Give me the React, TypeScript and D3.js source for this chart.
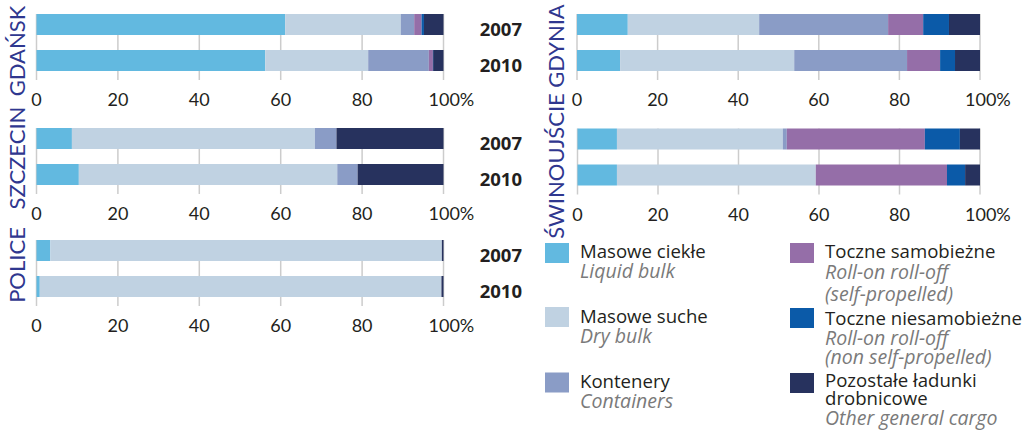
import React from 'react';
import * as d3 from 'd3';

// ---- data ----
const years = ['2007', '2010'];
const ports = ['GDAŃSK', 'GDYNIA', 'SZCZECIN', 'ŚWINOUJŚCIE', 'POLICE'];
const categoriesPL = ['Masowe ciekłe', 'Masowe suche', 'Kontenery', 'Toczne samobieżne', 'Toczne niesamobieżne', 'Pozostałe ładunki drobnicowe'];
const categoriesEN = ['Liquid bulk', 'Dry bulk', 'Containers', 'Roll-on roll-off (self-propelled)', 'Roll-on roll-off (non self-propelled)', 'Other general cargo'];
const tickValues = [0, 20, 40, 60, 80, 100];

// shares (%) per category, order as in categoriesPL
const gdansk2007 = [61.1, 28.4, 3.3, 1.8, 0.6, 4.8];
const gdansk2010 = [56.2, 25.3, 14.9, 1.0, 0.1, 2.5];
const gdynia2007 = [12.6, 32.6, 32.0, 8.7, 6.4, 7.7];
const gdynia2010 = [10.7, 43.2, 28.0, 8.2, 3.7, 6.2];
const szczecin2007 = [8.7, 59.7, 5.3, 0, 0, 26.3];
const szczecin2010 = [10.4, 63.5, 5.0, 0, 0, 21.1];
const swinoujscie2007 = [9.8, 41.2, 1.0, 34.3, 8.7, 5.0];
const swinoujscie2010 = [9.8, 49.4, 0, 32.6, 4.5, 3.7];
const police2007 = [3.4, 96.2, 0, 0, 0, 0.4];
const police2010 = [0.8, 98.7, 0, 0, 0, 0.5];

const portData = [
  [gdansk2007, gdansk2010],
  [gdynia2007, gdynia2010],
  [szczecin2007, szczecin2010],
  [swinoujscie2007, swinoujscie2010],
  [police2007, police2010],
];

// ---- styles ----
const colors = ['#62b9e0', '#c0d2e2', '#8a9cc6', '#956ea8', '#0b5aa8', '#27325e'];
const FONT = 'Lato, "Open Sans", sans-serif';
const LFONT = '"Open Sans", sans-serif';
const cityColor = '#2f378f';
const textColor = '#231f20';
const gridColor = '#cccccc';

// panel layout: x0, x1, top, label x, label center y
const panels = [
  { x0: 36.5, x1: 443.5, top: 14, lx: 25, ly: 51 },
  { x0: 577, x1: 980, top: 14, lx: 564, ly: 46 },
  { x0: 36.5, x1: 443.5, top: 128, lx: 25, ly: 158 },
  { x0: 577.5, x1: 980, top: 128.5, lx: 564, ly: 166 },
  { x0: 36.5, x1: 443.5, top: 240, lx: 25, ly: 265 },
];

function Panel({ p, data, idx }: any) {
  const x = d3.scaleLinear().domain([0, 100]).range([p.x0, p.x1]);
  const y = d3.scaleBand().domain(years).range([p.top, p.top + 57]).paddingInner(15 / 36).paddingOuter(0);
  const gridBottom = p.top + 66;
  const showYears = idx % 2 === 0;
  return (
    <g>
      {tickValues.map((t) => (
        <line key={t} x1={x(t)} x2={x(t)} y1={p.top} y2={gridBottom} stroke={gridColor} strokeWidth={1.5} />
      ))}
      {years.map((yr, yi) => {
        const vals = data[yi];
        const ends = Array.from(d3.cumsum(vals));
        return (
          <g key={yr}>
            {vals.map((v: number, ci: number) => {
              if (v <= 0) return null;
              const start = ends[ci] - v;
              return (
                <rect key={ci} x={x(start)} y={y(yr)} width={Math.max(0.8, x(ends[ci]) - x(start))}
                  height={y.bandwidth()} fill={colors[ci]} />
              );
            })}
            {showYears && (
              <text x={522} y={(y(yr) as number) + y.bandwidth() / 2 + 11} textAnchor="end"
                fontFamily={LFONT} fontWeight="bold" fontSize={18.5} fill={textColor}>{yr}</text>
            )}
          </g>
        );
      })}
      {tickValues.map((t) => (
        t === 100 ? (
          <text key={t} x={x(t) - 15} y={p.top + 92} fontFamily={FONT} fontSize={18} fill={textColor}>100%</text>
        ) : (
          <text key={t} x={x(t)} y={p.top + 92} textAnchor="middle" fontFamily={FONT} fontSize={18} fill={textColor}>{t}</text>
        )
      ))}
      <text transform={`translate(${p.lx},${p.ly}) rotate(-90)`} textAnchor="middle" fontFamily={FONT}
        fontSize={22} fill={cityColor}>{ports[idx]}</text>
    </g>
  );
}

function Legend() {
  const items = [
    { c: 0, x: 545, sy: 243, lines: [{ t: categoriesPL[0], it: false, y: 258 }, { t: categoriesEN[0], it: true, y: 278 }] },
    { c: 1, x: 545, sy: 307, lines: [{ t: categoriesPL[1], it: false, y: 323 }, { t: categoriesEN[1], it: true, y: 343 }] },
    { c: 2, x: 545, sy: 372.5, lines: [{ t: categoriesPL[2], it: false, y: 388 }, { t: categoriesEN[2], it: true, y: 407.5 }] },
    { c: 3, x: 790, sy: 243, lines: [{ t: categoriesPL[3], it: false, y: 258 }, { t: 'Roll-on roll-off', it: true, y: 279 }, { t: '(self-propelled)', it: true, y: 301 }] },
    { c: 4, x: 790, sy: 308, lines: [{ t: categoriesPL[4], it: false, y: 325 }, { t: 'Roll-on roll-off', it: true, y: 344.5 }, { t: '(non self-propelled)', it: true, y: 363.5 }] },
    { c: 5, x: 790, sy: 373, lines: [{ t: 'Pozostałe ładunki', it: false, y: 387 }, { t: 'drobnicowe', it: false, y: 404.5 }, { t: categoriesEN[5], it: true, y: 425 }] },
  ];
  return (
    <g>
      {items.map((it) => (
        <g key={it.c}>
          <rect x={it.x} y={it.sy} width={24} height={20} fill={colors[it.c]} />
          {it.lines.map((l, i) => (
            <text key={i} x={it.x + 35} y={l.y} fontFamily={LFONT} fontSize={l.it ? 19.5 : 18.6}
              fontStyle={l.it ? 'italic' : 'normal'} fill={l.it ? '#7a7a7a' : textColor}>{l.t}</text>
          ))}
        </g>
      ))}
    </g>
  );
}

export default function App() {
  return (
    <svg width={1031} height={431} style={{ position: 'absolute', left: 0, top: 0, background: '#fff' }}>
      <rect width={1031} height={431} fill="#fff" />
      {panels.map((p, i) => (
        <Panel key={i} p={p} data={portData[i]} idx={i} />
      ))}
      <Legend />
    </svg>
  );
}
